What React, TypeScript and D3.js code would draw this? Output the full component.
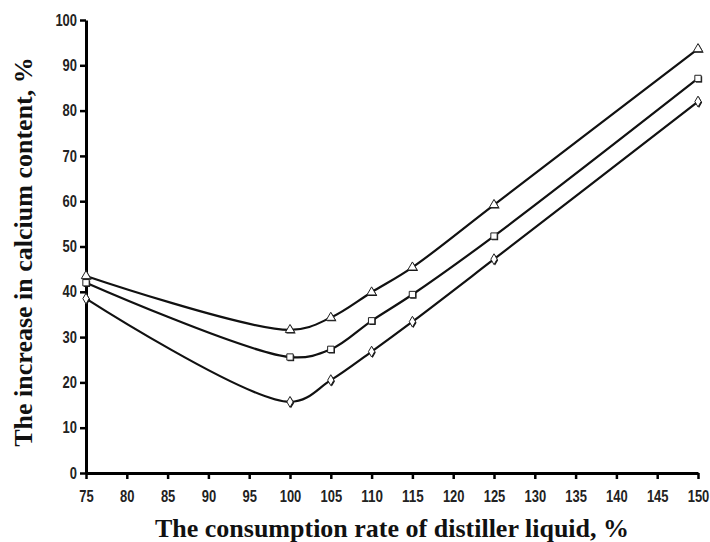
import React, { useEffect, useRef } from 'react';
import * as d3 from 'd3';

// consumption rate of distiller liquid, %
const rates = [75, 100, 105, 110, 115, 125, 150];
// increase in calcium content, % (three curves, top to bottom)
const triangleSeries = [43.5, 31.6, 34.3, 39.9, 45.4, 59.2, 93.6];
const squareSeries = [42.0, 25.6, 27.3, 33.6, 39.4, 52.3, 87.1];
const diamondSeries = [38.5, 15.7, 20.5, 26.8, 33.4, 47.2, 82.0];

const xTicks = d3.range(75, 151, 5);
const yTicks = d3.range(0, 101, 10);

const xTitle = 'The consumption rate of distiller liquid, %';
const yTitle = 'The increase in calcium content, %';

const WIDTH = 710;
const HEIGHT = 542;

export default function App() {
  const ref = useRef<SVGSVGElement>(null);

  useEffect(() => {
    const svg = d3.select(ref.current);
    svg.selectAll('*').remove();

    const margin = { top: 20, right: 12, bottom: 69, left: 86 };

    const x = d3.scaleLinear()
      .domain([75, 150])
      .range([margin.left, WIDTH - margin.right]);
    const y = d3.scaleLinear()
      .domain([0, 100])
      .range([HEIGHT - margin.bottom, margin.top]);

    const tickFont = '"Liberation Sans", Arial, sans-serif';
    const titleFont = '"Liberation Serif", "Times New Roman", serif';

    // x axis
    const xAxis = svg.append('g')
      .attr('transform', `translate(0,${y(0)})`)
      .call(d3.axisBottom(x).tickValues(xTicks).tickSize(6).tickSizeOuter(0).tickPadding(12));
    // y axis
    const yAxis = svg.append('g')
      .attr('transform', `translate(${x(75)},0)`)
      .call(d3.axisLeft(y).tickValues(yTicks).tickSize(6).tickSizeOuter(0).tickPadding(3));

    [xAxis, yAxis].forEach(g => {
      g.select('.domain').attr('stroke', '#000').attr('stroke-width', 3);
      g.selectAll('.tick line').attr('stroke', '#000').attr('stroke-width', 2.5);
      // narrow, tall digits like the original
      g.selectAll<SVGTextElement, number>('.tick text')
        .attr('fill', '#222')
        .attr('textLength', d => String(d).length * 7.2)
        .attr('lengthAdjust', 'spacingAndGlyphs')
        .style('font-family', tickFont)
        .style('font-weight', 'bold')
        .style('font-size', '16px');
    });

    const line = d3.line<number>()
      .x((d, i) => x(rates[i]))
      .y(d => y(d))
      .curve(d3.curveCatmullRom.alpha(0.5));

    const series = [
      { values: triangleSeries, symbol: d3.symbolTriangle, size: 38 },
      { values: squareSeries, symbol: d3.symbolSquare, size: 40 },
      { values: diamondSeries, symbol: d3.symbolDiamond, size: 34 },
    ];

    series.forEach(s => {
      svg.append('path')
        .datum(s.values)
        .attr('fill', 'none')
        .attr('stroke', '#111')
        .attr('stroke-width', 2.2)
        .attr('stroke-linejoin', 'round')
        .attr('d', line);
    });

    series.forEach(s => {
      const sym = d3.symbol().type(s.symbol).size(s.size);
      const g = svg.append('g');
      s.values.forEach((v, i) => {
        // small dark shadow, then the open marker
        g.append('path')
          .attr('d', sym() as string)
          .attr('transform', `translate(${x(rates[i]) + 1},${y(v) + 1})`)
          .attr('fill', '#111');
        g.append('path')
          .attr('d', sym() as string)
          .attr('transform', `translate(${x(rates[i])},${y(v)})`)
          .attr('fill', '#fff')
          .attr('stroke', '#222')
          .attr('stroke-width', 1);
      });
    });

    // axis titles
    svg.append('text')
      .attr('x', 392)
      .attr('y', 537)
      .attr('text-anchor', 'middle')
      .style('font-family', titleFont)
      .style('font-weight', 'bold')
      .style('font-size', '26px')
      .attr('fill', '#111')
      .text(xTitle);

    svg.append('text')
      .attr('transform', `translate(32,252) rotate(-90)`)
      .attr('text-anchor', 'middle')
      .style('font-family', titleFont)
      .style('font-weight', 'bold')
      .style('font-size', '26px')
      .attr('fill', '#111')
      .text(yTitle);
  }, []);

  return (
    <svg
      ref={ref}
      width={WIDTH}
      height={HEIGHT}
      style={{ position: 'absolute', left: 0, top: 0, background: '#fff' }}
    />
  );
}
